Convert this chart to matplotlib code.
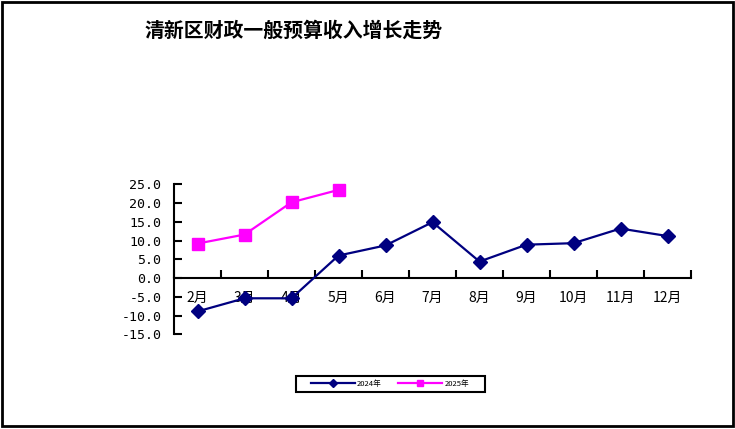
import matplotlib
matplotlib.use("Agg")
import matplotlib.pyplot as plt
from matplotlib.patches import Rectangle
from matplotlib.ticker import FixedLocator, FormatStrFormatter

plt.rcParams['font.family'] = ['Noto Sans CJK SC', 'DejaVu Sans']

# data
months = ['2月', '3月', '4月', '5月', '6月', '7月', '8月', '9月', '10月', '11月', '12月']
growth_2024 = [-8.9, -5.4, -5.4, 6.0, 8.7, 14.9, 4.4, 8.9, 9.3, 13.2, 11.2]
growth_2025 = [9.2, 11.6, 20.2, 23.5]
y_ticks = [-15, -10, -5, 0, 5, 10, 15, 20, 25]

W, H = 735, 429
fig = plt.figure(figsize=(W / 100, H / 100), dpi=100)
ax = fig.add_axes([174 / W, 1 - 334.3 / H, 517 / W, 150 / H])

x = list(range(len(months)))
ax.plot(x, growth_2024, color='#000080', lw=1.6, marker='D', ms=7,
        label='2024年', clip_on=False, zorder=3)
ax.plot(x[:len(growth_2025)], growth_2025, color='#FF00FF', lw=1.6, marker='s', ms=8,
        label='2025年', clip_on=False, zorder=3)

ax.set_xlim(-0.5, len(months) - 0.5)
ax.set_ylim(-15, 25)

for s in ['top', 'right']:
    ax.spines[s].set_visible(False)
ax.spines['bottom'].set_position(('data', 0))
ax.spines['bottom'].set_linewidth(1.5)
ax.spines['left'].set_linewidth(1.5)

ax.yaxis.set_major_locator(FixedLocator(y_ticks))
ax.yaxis.set_major_formatter(FormatStrFormatter('%.1f'))
ax.tick_params(axis='y', direction='in', length=6, width=1.5, pad=9, labelsize=9.5)
for lab in ax.get_yticklabels():
    lab.set_family('DejaVu Sans Mono')

ax.set_xticks(x)
ax.set_xticklabels(months)
ax.set_xticks([i - 0.5 for i in range(len(months) + 1)], minor=True)
ax.tick_params(axis='x', which='major', length=0, pad=9, labelsize=10)
ax.tick_params(axis='x', which='minor', direction='in', length=6, width=1.5)

fig.text(294 / W, 1 - 30 / H, '清新区财政一般预算收入增长走势', ha='center', va='center',
         fontsize=14.3, fontweight='bold')

# legend without its own frame; the box is drawn separately to match the wide frame
leg = ax.legend(loc='center', bbox_to_anchor=(390 / W, 1 - 384 / H),
                bbox_transform=fig.transFigure, ncol=2, fontsize=5.5,
                handlelength=5.7, columnspacing=2.2, handletextpad=0.3,
                markerscale=0.6, frameon=False, borderpad=0.2)
fig.patches.append(Rectangle((296 / W, 1 - 392 / H), 189 / W, 16.5 / H, fill=False,
                             edgecolor='black', linewidth=1.5, transform=fig.transFigure))

fig.patches.append(Rectangle((1.5 / W, 3 / H), 731 / W, 424.5 / H, fill=False,
                             edgecolor='black', linewidth=2, transform=fig.transFigure))

fig.savefig('out.png', dpi=100)
